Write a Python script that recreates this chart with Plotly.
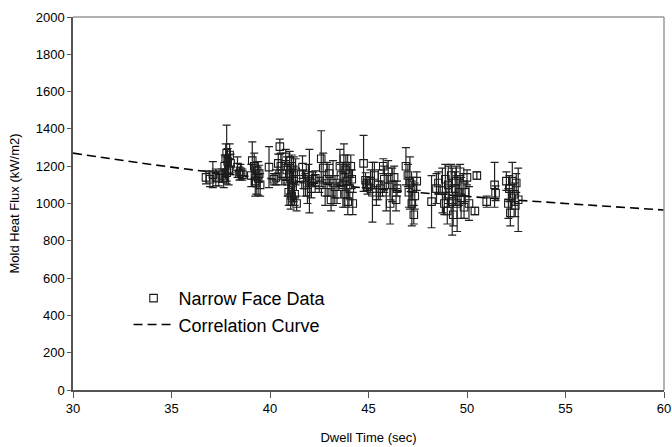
import plotly.graph_objects as go

dwell = [36.75, 36.95, 37.1, 37.25, 37.4, 37.55, 37.65,
         37.7, 37.75, 37.8, 37.85, 37.9, 37.95, 38.0, 37.8,
         38.35, 38.5, 38.6, 38.45,
         39.05, 39.1, 39.2, 39.25, 39.3, 39.35, 39.4, 39.5, 39.45,
         39.95, 40.2, 40.3, 40.42, 40.5, 40.6, 40.55,
         40.8, 40.85, 40.9, 40.95, 41.0, 41.05, 41.1, 41.15, 41.2, 41.25, 41.3, 41.35, 41.0, 41.2, 41.1,
         41.65, 41.7, 41.8, 41.9, 41.95, 42.0, 42.1, 42.2, 42.3,
         42.5, 42.6, 42.7, 42.8, 42.9, 43.0, 43.1, 43.2, 43.3, 43.4,
         43.55, 43.6, 43.7, 43.75, 43.8, 43.85, 43.9, 43.95, 44.0, 44.05, 44.1, 44.15, 44.2,
         44.75, 44.85, 44.9, 44.95,
         45.1, 45.2, 45.3, 45.4, 45.5, 45.6,
         45.75, 45.8, 45.9, 46.0, 46.1, 46.2, 46.3, 46.4, 46.45,
         46.9, 47.0, 47.05, 47.1, 47.2, 47.25, 47.3, 47.35, 47.45,
         48.2, 48.45, 48.55,
         48.75, 48.85, 48.9, 49.0, 49.05, 49.1, 49.2, 49.25, 49.3, 49.4, 49.45, 49.5, 49.6, 49.65, 49.7, 49.8, 49.85, 49.9, 50.0, 50.1,
         50.5, 50.4, 51.0, 51.4, 51.45,
         52.0, 52.1, 52.15, 52.2, 52.3, 52.4, 52.45, 52.5, 52.6]
flux = [1140, 1130, 1155, 1140, 1135, 1150, 1135,
        1200, 1240, 1270, 1225, 1180, 1260, 1215, 1165,
        1195, 1170, 1155, 1160,
        1150, 1230, 1200, 1120, 1110, 1175, 1135, 1100, 1160,
        1195, 1130, 1140, 1215, 1305, 1160, 1200,
        1250, 1180, 1120, 1060, 1150, 1010, 1200, 1090, 1130, 1050, 1170, 1000, 1230, 1160, 1040,
        1195, 1130, 1100, 1060, 1150, 1120, 1080, 1130, 1135,
        1100, 1240, 1190, 1060, 1130, 1160, 1020, 1110, 1090, 1050,
        1200, 1150, 1100, 1240, 1050, 1180, 1120, 1010, 1160, 1080, 1200, 1130, 1000,
        1215, 1125, 1100, 1090,
        1120, 1060, 1150, 1040, 1100, 1080,
        1200, 1130, 1060, 1170, 1000, 1100, 1140, 1020, 1080,
        1200, 1150, 1060, 1110, 1000, 1080, 940, 1040, 1120,
        1010, 1080, 1110,
        1070, 1000, 1130, 960, 1100, 1040, 1150, 1010, 940, 1080, 1120, 1000, 1060, 1170, 1030, 1100, 980, 1060, 1140, 1000,
        1150, 960, 1010, 1100, 1055,
        1120, 1000, 1080, 950, 1120, 1050, 990, 1110, 1020]
flux_err = [35, 40, 70, 45, 40, 35, 50,
            60, 80, 150, 70, 80, 60, 50, 60,
            55, 40, 30, 35,
            60, 100, 70, 80, 60, 50, 90, 60, 45,
            110, 30, 40, 50, 40, 60, 70,
            40, 70, 80, 70, 100, 40, 60, 80, 120, 60, 70, 40, 50, 40, 50,
            60, 50, 60, 60, 60, 170, 50, 40, 40,
            40, 150, 80, 70, 90, 50, 60, 120, 60, 50,
            90, 60, 120, 80, 70, 80, 90, 70, 60, 60, 60, 50, 60,
            150, 40, 30, 40,
            60, 160, 70, 50, 80, 40,
            40, 70, 100, 60, 110, 90, 60, 60, 40,
            100, 60, 80, 140, 120, 60, 50, 70, 50,
            140, 80, 60,
            120, 60, 80, 70, 100, 60, 60, 180, 60, 90, 80, 150, 70, 40, 110, 60, 60, 50, 40, 90,
            20, 20, 30, 120, 40,
            50, 80, 70, 70, 100, 60, 60, 50, 170]

curve_t = [30, 35, 40, 45, 50, 55, 60]
curve_q = [1270, 1195, 1133, 1082, 1038, 1000, 965]

x_ticks = [30, 35, 40, 45, 50, 55, 60]
y_ticks = [0, 200, 400, 600, 800, 1000, 1200, 1400, 1600, 1800, 2000]

fig = go.Figure()
fig.add_trace(go.Scatter(
    x=curve_t, y=curve_q, mode="lines", name="Correlation Curve",
    line=dict(color="black", width=1.6, dash="9px,5px"), line_shape="spline"))
fig.add_trace(go.Scatter(
    x=dwell, y=flux, mode="markers", name="Narrow Face Data",
    marker=dict(symbol="square-open", size=7.5, color="#1a1a1a", line=dict(width=1.1)),
    error_y=dict(type="data", array=flux_err, visible=True, color="#222222", thickness=1.2, width=4)))

font = "Liberation Sans, Arial, sans-serif"
fig.update_layout(
    width=672, height=447,
    margin=dict(l=73, r=8, t=17, b=57),
    paper_bgcolor="white", plot_bgcolor="white",
    font=dict(family=font, color="black", size=13),
    showlegend=True,
    legend=dict(x=0.094, y=0.295, xanchor="left", yanchor="top",
                traceorder="reversed", bgcolor="rgba(0,0,0,0)",
                font=dict(size=18, family=font), itemwidth=40, tracegroupgap=0),
    xaxis=dict(range=[30, 60], tickvals=x_ticks, ticktext=[str(v) for v in x_ticks],
               showgrid=False, zeroline=False, showline=True, linecolor="#555555", linewidth=1.5,
               ticks="outside", ticklen=6, tickcolor="#555555", automargin=False,
               title=dict(text="Dwell Time (sec)", font=dict(size=13), standoff=18)),
    yaxis=dict(range=[0, 2000], tickvals=y_ticks, ticktext=[str(v) for v in y_ticks],
               showgrid=False, zeroline=False, showline=True, linecolor="#555555", linewidth=1.5,
               ticks="outside", ticklen=4, tickcolor="#555555", automargin=False,
               title=dict(text="Mold Heat Flux (kW/m2)", font=dict(size=13), standoff=13)),
    shapes=[
        dict(type="line", xref="paper", yref="paper", x0=0, x1=1, y0=1, y1=1,
             line=dict(color="#999999", width=1.5)),
        dict(type="line", xref="paper", yref="paper", x0=1, x1=1, y0=0, y1=1,
             line=dict(color="#999999", width=1.5)),
    ],
)
fig.write_html("out.html", config={"displayModeBar": False},
               post_script="document.body.style.margin='0';document.body.style.overflow='hidden';")
